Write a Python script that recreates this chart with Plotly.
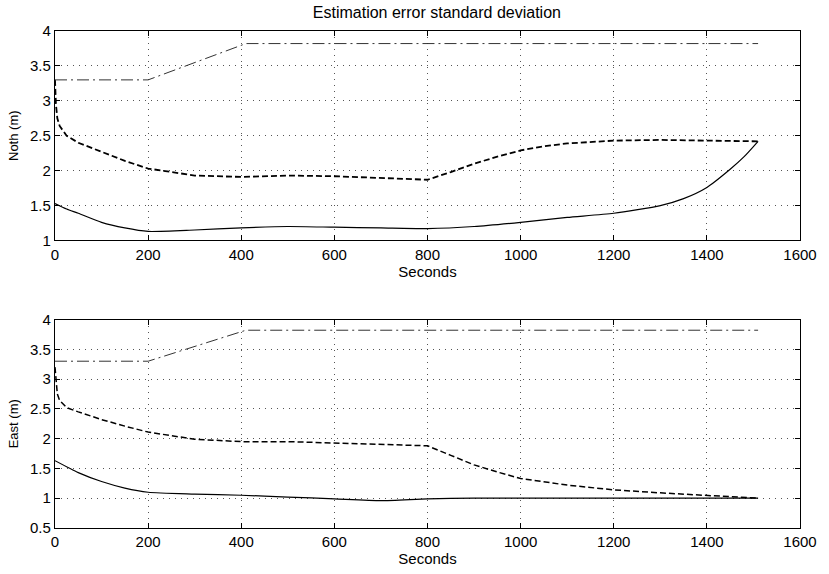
import plotly.graph_objects as go
from plotly.subplots import make_subplots

# ---- North (top panel) ----
north_solid_t = [0, 25, 50, 100, 150, 200, 300, 400, 500, 600, 700, 800, 900, 1000, 1100, 1200, 1300, 1350, 1400, 1450, 1480, 1510]
north_solid = [1.53, 1.45, 1.39, 1.26, 1.18, 1.13, 1.15, 1.18, 1.20, 1.19, 1.18, 1.17, 1.20, 1.26, 1.33, 1.39, 1.50, 1.60, 1.76, 2.02, 2.20, 2.42]

north_dash_t = [0, 2, 5, 10, 25, 50, 100, 150, 200, 300, 400, 500, 600, 700, 800, 850, 900, 950, 1000, 1050, 1100, 1200, 1300, 1400, 1510]
north_dash = [3.3, 2.95, 2.75, 2.64, 2.50, 2.40, 2.27, 2.14, 2.03, 1.93, 1.91, 1.93, 1.92, 1.90, 1.87, 1.98, 2.10, 2.20, 2.29, 2.35, 2.39, 2.43, 2.44, 2.43, 2.42]

north_dd_t = [0, 200, 410, 1510]
north_dd = [3.3, 3.3, 3.82, 3.82]

# ---- East (bottom panel) ----
east_solid_t = [0, 50, 100, 150, 200, 300, 400, 500, 600, 700, 800, 900, 1000, 1200, 1400, 1510]
east_solid = [1.63, 1.43, 1.28, 1.17, 1.10, 1.07, 1.05, 1.02, 0.99, 0.96, 0.99, 1.0, 1.0, 1.0, 1.0, 1.0]

east_dash_t = [0, 2, 5, 10, 25, 50, 100, 150, 200, 300, 400, 500, 600, 700, 800, 850, 900, 950, 1000, 1100, 1200, 1300, 1400, 1510]
east_dash = [3.2, 2.95, 2.75, 2.64, 2.52, 2.45, 2.32, 2.21, 2.11, 1.99, 1.95, 1.95, 1.93, 1.91, 1.88, 1.72, 1.56, 1.44, 1.33, 1.22, 1.14, 1.09, 1.05, 1.0]

east_dd_t = [0, 200, 410, 1510]
east_dd = [3.3, 3.3, 3.82, 3.82]

x_ticks = [0, 200, 400, 600, 800, 1000, 1200, 1400, 1600]
north_yticks = [1, 1.5, 2, 2.5, 3, 3.5, 4]
east_yticks = [0.5, 1, 1.5, 2, 2.5, 3, 3.5, 4]

FONT = "Liberation Sans, Arial, sans-serif"

fig = make_subplots(rows=2, cols=1)

def add(t, v, row, dash, width, color="black", shape="linear"):
    fig.add_trace(go.Scatter(x=t, y=v, mode="lines",
                             line=dict(color=color, width=width, dash=dash, shape=shape, smoothing=0.6),
                             showlegend=False, hoverinfo="skip"), row=row, col=1)

add(north_solid_t, north_solid, 1, "solid", 1.2, shape="spline")
add(north_dash_t, north_dash, 1, "6px,3px", 1.8)
add(north_dd_t, north_dd, 1, "12px,4px,2px,4px", 1.0, color="#333333")
add(east_solid_t, east_solid, 2, "solid", 1.2, shape="spline")
add(east_dash_t, east_dash, 2, "6px,3px", 1.5)
add(east_dd_t, east_dd, 2, "12px,4px,2px,4px", 1.0, color="#333333")

axis_common = dict(showline=True, linecolor="black", linewidth=1.3, mirror="ticks",
                   ticks="inside", ticklen=5, tickcolor="black",
                   showgrid=True, gridcolor="#555555", griddash="1px,5px", gridwidth=1,
                   zeroline=False, tickfont=dict(family=FONT, size=15, color="black"))

fig.update_xaxes(range=[0, 1600], tickvals=x_ticks, ticktext=[str(v) for v in x_ticks],
                 title=dict(text="Seconds", font=dict(family=FONT, size=15, color="black"), standoff=1),
                 **axis_common)
fig.update_yaxes(**axis_common)
fig.update_yaxes(range=[1, 4], tickvals=north_yticks, ticktext=["1", "1.5", "2", "2.5", "3", "3.5", "4"],
                 title=dict(text="Noth (m)", font=dict(family=FONT, size=13, color="black"), standoff=8),
                 row=1, col=1)
fig.update_yaxes(range=[0.5, 4], tickvals=east_yticks, ticktext=["0.5", "1", "1.5", "2", "2.5", "3", "3.5", "4"],
                 title=dict(text="East (m)", font=dict(family=FONT, size=13, color="black"), standoff=8),
                 row=2, col=1)

fig.update_layout(
    width=829, height=574,
    margin=dict(l=55, r=22, t=31, b=40),
    paper_bgcolor="white", plot_bgcolor="white",
    title=dict(text="Estimation error standard deviation", x=0.527, xanchor="center",
               y=0.978, yanchor="middle", font=dict(family=FONT, size=16, color="black")),
)
fig.layout.yaxis.domain = [0.5785, 1.0]
fig.layout.yaxis2.domain = [0.0, 0.4195]

fig.write_html("out.html")
